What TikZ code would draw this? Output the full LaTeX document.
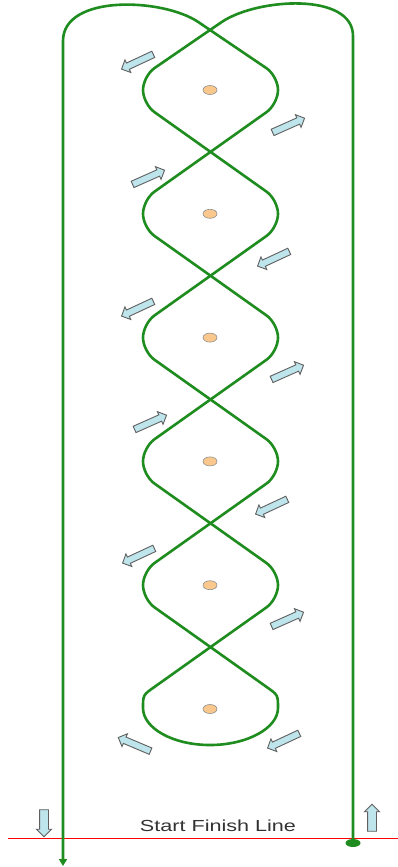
\documentclass[tikz,border=0pt]{standalone}
\usepackage{fontspec}
\setmainfont{Liberation Sans}
\usetikzlibrary{shapes.geometric,shapes.arrows,arrows.meta}
\definecolor{trk}{RGB}{30,140,30}
\definecolor{afill}{RGB}{190,228,236}
\definecolor{aline}{RGB}{95,95,95}
\definecolor{cone}{RGB}{250,200,140}
\begin{document}
\begin{tikzpicture}[x=1pt,y=-1pt,
  track/.style={draw=trk,line width=2.6pt,line cap=round},
  blk/.style={single arrow,draw=aline,fill=afill,line width=0.9pt,inner xsep=0pt,inner ysep=3pt,
     single arrow head extend=3.5pt,minimum height=35pt},
  vblk/.style={single arrow,draw=aline,fill=afill,line width=0.9pt,inner xsep=0pt,inner ysep=4pt,
     single arrow head extend=3pt,minimum height=27pt},
  conestyle/.style={ellipse,draw=aline!70,fill=cone,line width=0.6pt,inner sep=0pt,
     minimum width=14pt,minimum height=9pt}]
\useasboundingbox (0,0) rectangle (398,867);
\fill[white] (0,0) rectangle (398,867);
% start/finish line
\coordinate (rl1) at (8,838);
\coordinate (rl2) at (398,838);
\draw[red,line width=0.8pt] (rl1) -- (rl2);
\node[font=\fontsize{16}{16}\selectfont,text=black!80,xscale=1.35] (sfl) at (218,826) {Start Finish Line};
% track
\coordinate (rs) at (353,843);
\coordinate (le) at (63,866);
\coordinate (x6) at (210.5,647.1);
\draw[track,rounded corners=14pt]
  (rs) -- (353,50) .. controls (353,-8) and (257,-2) .. (210,30)
  -- (143,76) -- (143,104)
  -- (278,199.8) -- (278,227.8)
  -- (143,323.6) -- (143,351.6)
  -- (278,447.4) -- (278,475.4)
  -- (143,571.2) -- (143,599.2)
  -- (x6);
\draw[track]
  (x6) -- (266.5,686.9) .. controls (278,695) .. (278,708)
  .. controls (278,728) and (247.5,745) .. (210,745)
  .. controls (172.5,745) and (143,728) .. (143,708)
  .. controls (143,695) .. (154.5,686.9) -- (x6);
\draw[track,rounded corners=14pt,-{Triangle[width=8pt,length=7pt]}]
  (x6) -- (278,599.2) -- (278,571.2)
  -- (143,475.4) -- (143,447.4)
  -- (278,351.6) -- (278,323.6)
  -- (143,227.8) -- (143,199.8)
  -- (278,104) -- (278,76)
  -- (210,30) .. controls (163,-2) and (63,-6) .. (63,55)
  -- (le);
\fill[trk] (rs) ellipse [x radius=7.5, y radius=4];
% cones
\node[conestyle] (c1) at (210,90) {};
\node[conestyle] (c2) at (210,213.8) {};
\node[conestyle] (c3) at (210,337.6) {};
\node[conestyle] (c4) at (210,461.4) {};
\node[conestyle] (c5) at (210,585.2) {};
\node[conestyle] (c6) at (210,709) {};
% direction arrows
\node[blk,rotate=205] (a1) at (139,61) {};
\node[blk,rotate=24] (a2) at (287,126) {};
\node[blk,rotate=24] (a3) at (147,178) {};
\node[blk,rotate=205] (a4) at (275,258) {};
\node[blk,rotate=205] (a5) at (139,308) {};
\node[blk,rotate=24] (a6) at (286,373) {};
\node[blk,rotate=24] (a7) at (149,423) {};
\node[blk,rotate=205] (a8) at (273,506) {};
\node[blk,rotate=205] (a9) at (140,555) {};
\node[blk,rotate=24] (a10) at (286,620) {};
\node[blk,rotate=157] (a11) at (136,745) {};
\node[blk,rotate=205] (a12) at (285,740) {};
\node[vblk,rotate=270] (v1) at (44,821) {};
\node[vblk,rotate=90] (v2) at (372,820) {};
\end{tikzpicture}
\end{document}
